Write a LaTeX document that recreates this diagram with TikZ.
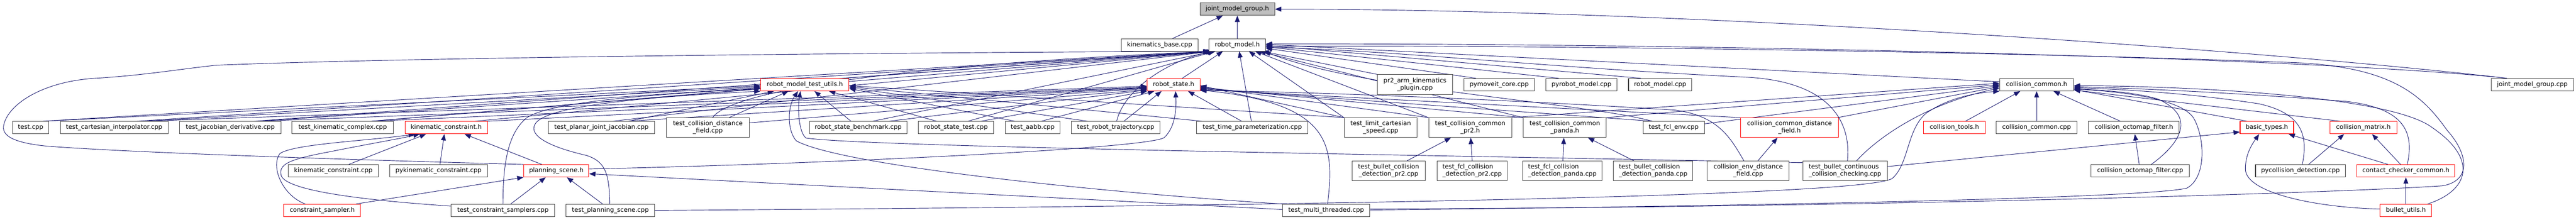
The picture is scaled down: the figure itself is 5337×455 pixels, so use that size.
\documentclass[tikz,border=0pt]{standalone}
\usepackage{fontspec}
\setmainfont{DejaVu Sans}
\usetikzlibrary{arrows.meta,backgrounds}
\definecolor{eblue}{HTML}{191970}
\definecolor{gborder}{HTML}{404040}
\definecolor{gfill}{HTML}{BFBFBF}
\tikzset{
  nb/.style={draw=gborder, line width=1.1pt, fill=white, inner sep=0pt, minimum height=25.7pt, text=black, font=\fontsize{12.9}{15}\selectfont},
  nb2/.style={nb, minimum height=40.7pt, align=center},
  nbl/.style={nb, minimum height=40.7pt, align=left},
  hl/.style={draw=red},
  root/.style={fill=gfill},
  e/.style={draw=eblue, line width=1pt, -{Triangle[length=13pt,width=10pt]}},
}
\begin{document}
\begin{tikzpicture}[x=1pt,y=-1pt]
\useasboundingbox (0,0) rectangle (5337,455);
% row 0-2
\node[nb,root,minimum width=155pt] (jmgh) at (2563.5,19) {joint\_model\_group.h};
\node[nb,minimum width=159pt] (kb) at (2402.5,93) {kinematics\_base.cpp};
\node[nb,minimum width=117pt] (rmh) at (2563.5,93) {robot\_model.h};
\node[nb,hl,minimum width=183pt] (rmtu) at (1667.5,175.5) {robot\_model\_test\_utils.h};
\node[nb,hl,minimum width=109pt] (rsh) at (2431.5,175.5) {robot\_state.h};
\node[nb2,minimum width=155pt] (pr2arm) at (2931.5,175) {pr2\_arm\_kinematics\\\_plugin.cpp};
\node[nb,minimum width=146pt] (pymc) at (3106,175.5) {pymoveit\_core.cpp};
\node[nb,minimum width=147pt] (pyrm) at (3276.5,175.5) {pyrobot\_model.cpp};
\node[nb,minimum width=131pt] (rmcpp) at (3439.5,175.5) {robot\_model.cpp};
\node[nb,minimum width=153pt] (cch) at (4219.5,175.5) {collision\_common.h};
\node[nb,minimum width=171pt] (jmgcpp) at (5246.5,175.5) {joint\_model\_group.cpp};
% row 3
\node[nb,minimum width=75pt] (testcpp) at (63.5,264.5) {test.cpp};
\node[nb,minimum width=223pt] (tci) at (236.5,264.5) {test\_cartesian\_interpolator.cpp};
\node[nb,minimum width=210pt] (tjd) at (477,264.5) {test\_jacobian\_derivative.cpp};
\node[nb,minimum width=210pt] (tkc) at (710,264.5) {test\_kinematic\_complex.cpp};
\node[nb,hl,minimum width=171pt] (kch) at (924.5,264.5) {kinematic\_constraint.h};
\node[nb,minimum width=220pt] (tpjj) at (1246,264.5) {test\_planar\_joint\_jacobian.cpp};
\node[nb2,minimum width=171pt] (tcdf) at (1466.5,264.5) {test\_collision\_distance\\\_field.cpp};
\node[nb,minimum width=202pt] (rsb) at (1778,264.5) {robot\_state\_benchmark.cpp};
\node[nb,minimum width=155pt] (rst) at (1980.5,264.5) {robot\_state\_test.cpp};
\node[nb,minimum width=113pt] (aabb) at (2139.5,264.5) {test\_aabb.cpp};
\node[nb,minimum width=183pt] (trt) at (2311.5,264.5) {test\_robot\_trajectory.cpp};
\node[nb,minimum width=231pt] (ttp) at (2594.5,264.5) {test\_time\_parameterization.cpp};
\node[nb2,minimum width=151pt] (tlcs) at (2860.5,264.5) {test\_limit\_cartesian\\\_speed.cpp};
\node[nb2,minimum width=172pt] (tccpr2) at (3046,264.5) {test\_collision\_common\\\_pr2.h};
\node[nb2,minimum width=172pt] (tccpanda) at (3242,264.5) {test\_collision\_common\\\_panda.h};
\node[nb,minimum width=127pt] (tfclenv) at (3467.5,264.5) {test\_fcl\_env.cpp};
\node[nb2,hl,minimum width=203pt] (ccdf) at (3707.5,264.5) {collision\_common\_distance\\\_field.h};
\node[nb,hl,minimum width=128pt] (ctools) at (4049,264.5) {collision\_tools.h};
\node[nb,minimum width=167pt] (cccpp) at (4219.5,264.5) {collision\_common.cpp};
\node[nb,minimum width=188pt] (cofh) at (4421,264.5) {collision\_octomap\_filter.h};
\node[nb,hl,minimum width=111pt] (bth) at (4696.5,264.5) {basic\_types.h};
\node[nb,hl,minimum width=139pt] (cmh) at (4896.5,264.5) {collision\_matrix.h};
% row 4
\node[nb,minimum width=187pt] (kccpp) at (690.5,354) {kinematic\_constraint.cpp};
\node[nb,minimum width=203pt] (pykc) at (908.5,354) {pykinematic\_constraint.cpp};
\node[nb,hl,minimum width=135pt] (psh) at (1152.5,354) {planning\_scene.h};
\node[nb2,minimum width=152pt] (tbcdpr2) at (2877,354) {test\_bullet\_collision\\\_detection\_pr2.cpp};
\node[nbl,minimum width=146pt] (tfcdpr2) at (3050,354) {test\_fcl\_collision\\\_detection\_pr2.cpp};
\node[nbl,minimum width=164pt] (tfcdpanda) at (3237,354) {test\_fcl\_collision\\\_detection\_panda.cpp};
\node[nbl,minimum width=164pt] (tbcdpanda) at (3425,354) {test\_bullet\_collision\\\_detection\_panda.cpp};
\node[nb2,minimum width=170pt] (cedf) at (3622,354) {collision\_env\_distance\\\_field.cpp};
\node[nbl,minimum width=175pt] (tbccc) at (3822.5,354) {test\_bullet\_continuous\\\_collision\_checking.cpp};
\node[nb,minimum width=204pt] (cofcpp) at (4434,354) {collision\_octomap\_filter.cpp};
\node[nb,minimum width=186pt] (pycd) at (4766,354) {pycollision\_detection.cpp};
\node[nb,hl,minimum width=203pt] (cchk) at (4984.5,354) {contact\_checker\_common.h};
% row 5
\node[nb,hl,minimum width=159pt] (csh) at (667.5,436) {constraint\_sampler.h};
\node[nb,minimum width=214pt] (tcs) at (1042,436) {test\_constraint\_samplers.cpp};
\node[nb,minimum width=183pt] (tps) at (1264.5,436) {test\_planning\_scene.cpp};
\node[nb,minimum width=181pt] (tmt) at (2747.5,436) {test\_multi\_threaded.cpp};
\node[nb,hl,minimum width=107pt] (buh) at (4984.5,436) {bullet\_utils.h};

\begin{scope}[on background layer]
\fill[white] (0,0) rectangle (5337,455);
% joint_model_group.h
\draw[e] ([xshift=27pt]kb.north) -- ([xshift=-30pt]jmgh.south);
\draw[e] (rmh.north) -- (jmgh.south);
\draw[e] ([xshift=-53pt]jmgcpp.north) .. controls +(-500,-58) and +(860,0) .. (jmgh.east);
% robot_model.h
\draw[e] ([xshift=18pt]rsh.north) -- ([xshift=-30pt]rmh.south);
\draw[e] ([xshift=80pt]rmtu.north) -- ([xshift=-58pt]rmh.south);
\draw[e] (pr2arm.north west) -- ([xshift=52pt]rmh.south);
\draw[e] ([xshift=-48pt]pymc.north) -- ([yshift=-7pt]rmh.east);
\draw[e] ([xshift=-47pt]pyrm.north) -- ([yshift=-4pt]rmh.east);
\draw[e] ([xshift=-40pt]rmcpp.north) -- ([yshift=-1pt]rmh.east);
\draw[e] ([xshift=-53pt]jmgcpp.north) .. controls +(-393,-43) and +(880,-2) .. ([yshift=2pt]rmh.east);
\draw[e] ([yshift=6pt]cch.west) -- ([yshift=1pt]rmh.east);
\draw[e] ([xshift=26pt]testcpp.north) -- ([xshift=-56pt]rmh.south);
\draw[e] ([xshift=47pt]tci.north) -- ([xshift=-55pt]rmh.south);
\draw[e] ([xshift=50pt]tjd.north) -- ([xshift=-54pt]rmh.south);
\draw[e] ([xshift=60pt]tkc.north) -- ([xshift=-53pt]rmh.south);
\draw[e] ([xshift=60pt]kch.north) -- ([xshift=-52pt]rmh.south);
\draw[e] ([xshift=24pt]tpjj.north) -- ([xshift=-51pt]rmh.south);
\draw[e] ([xshift=10pt]tcdf.north) .. controls +(40,-60) and +(-600,25) .. ([xshift=-50pt]rmh.south);
\draw[e] ([xshift=30pt]rsb.north) -- ([xshift=-49pt]rmh.south);
\draw[e] ([xshift=25pt]rst.north) -- ([xshift=-47pt]rmh.south);
\draw[e] ([xshift=2pt]trt.north) .. controls +(17,-72) and +(-85,14) .. ([xshift=-45pt]rmh.south);
\draw[e] ([xshift=-2pt]ttp.north) -- ([xshift=4pt]rmh.south);
\draw[e] (tlcs.north west) -- ([xshift=24pt]rmh.south);
\draw[e] (tccpr2.north west) -- ([xshift=37pt]rmh.south);
\draw[e] (tccpanda.north west) -- ([xshift=46pt]rmh.south);
\draw[e] ([xshift=-44pt]tfclenv.north) .. controls +(-150,-40) and +(200,80) .. ([xshift=56pt]rmh.south);
\draw[e] (psh.north west) .. controls (800,333) and (300,318) .. (100,303) .. controls (25,296) and (2,280) .. (8,258) .. controls (18,215) and (90,168) .. (200,162) .. controls (300,156) and (380,142) .. (450,135) .. controls (900,117) and (2000,108) .. ([xshift=-57pt]rmh.south);
\draw[e] ([yshift=3pt]tmt.east) .. controls (3800,430) and (4800,402) .. (5060,385) .. controls (5120,375) and (5115,320) .. (5070,270) .. controls (5020,200) and (4960,140) .. (4760,130) .. controls (4200,108) and (3200,93) .. ([yshift=-3pt]rmh.east);
\draw[e] ([xshift=5pt]tbccc.north) .. controls (3835,260) and (3800,170) .. (3620,160) .. controls (3200,140) and (2900,105) .. ([yshift=-5pt]rmh.east);
% robot_state.h
\draw[e] ([xshift=63pt]tci.north) -- ([yshift=-3pt]rsh.west);
\draw[e] ([xshift=60pt]tjd.north) -- ([yshift=-5pt]rsh.west);
\draw[e] ([xshift=60pt]tkc.north) -- ([yshift=-6pt]rsh.west);
\draw[e] (kch.north east) -- ([yshift=-7pt]rsh.west);
\draw[e] ([xshift=56pt]tpjj.north) -- ([yshift=-8pt]rsh.west);
\draw[e] ([yshift=10pt]tcdf.east) -- ([yshift=-10pt]rsh.west);
\draw[e] ([xshift=64pt]rsb.north) -- ([yshift=-11pt]rsh.west);
\draw[e] ([xshift=52pt]rst.north) -- (rsh.south west);
\draw[e] ([xshift=18pt]aabb.north) -- ([xshift=-40pt]rsh.south);
\draw[e] ([xshift=17pt]trt.north) -- ([xshift=-25pt]rsh.south);
\draw[e] ([xshift=-22pt]ttp.north) -- ([xshift=30pt]rsh.south);
\draw[e] (tlcs.north west) -- ([yshift=-2pt]rsh.east);
\draw[e] (tccpr2.north west) -- ([yshift=-4pt]rsh.east);
\draw[e] (tccpanda.north west) -- ([yshift=-6pt]rsh.east);
\draw[e] ([xshift=-44pt]tfclenv.north) -- ([yshift=-8pt]rsh.east);
\draw[e] (ccdf.north west) -- ([yshift=-10pt]rsh.east);
\draw[e] ([xshift=-9pt]cedf.north) .. controls (3585,285) and (3560,240) .. (3470,228) .. controls (3100,205) and (2700,190) .. ([yshift=-12pt]rsh.east);
\draw[e] ([xshift=3pt]tmt.north) .. controls (2765,300) and (2760,215) .. ([yshift=-11pt]rsh.east);
\draw[e] ([yshift=4pt]psh.east) .. controls (1700,340) and (2380,308) .. (2412,285) .. controls (2437,262) and (2437,220) .. ([xshift=4pt]rsh.south);
% robot_model_test_utils.h
\draw[e] ([xshift=26pt]testcpp.north) -- ([yshift=-2pt]rmtu.west);
\draw[e] ([xshift=63pt]tci.north) -- ([yshift=-4pt]rmtu.west);
\draw[e] ([xshift=60pt]tjd.north) -- ([yshift=-6pt]rmtu.west);
\draw[e] ([xshift=60pt]tkc.north) -- ([yshift=-8pt]rmtu.west);
\draw[e] ([xshift=56pt]tpjj.north) -- ([xshift=-64pt]rmtu.south);
\draw[e] ([xshift=44pt]tcdf.north) -- ([xshift=-34pt]rmtu.south);
\draw[e] ([xshift=-15pt]rsb.north) -- ([xshift=20pt]rmtu.south);
\draw[e] ([xshift=-40pt]rst.north) -- ([xshift=50pt]rmtu.south);
\draw[e] ([xshift=-37pt]aabb.north) -- ([yshift=-8pt]rmtu.east);
\draw[e] ([xshift=-58pt]trt.north) -- ([yshift=-6pt]rmtu.east);
\draw[e] ([xshift=-104pt]ttp.north) -- ([yshift=-4pt]rmtu.east);
\draw[e] (tlcs.north west) -- ([yshift=-2pt]rmtu.east);
\draw[e] (tcs.north) .. controls (1042,330) and (1055,275) .. (1090,245) .. controls (1130,215) and (1300,198) .. ([yshift=-8pt]rmtu.west);
\draw[e] ([xshift=-1pt]tps.north) .. controls (1262,360) and (1255,335) .. (1215,322) .. controls (1120,300) and (1095,275) .. (1110,255) .. controls (1130,228) and (1250,205) .. (rmtu.south west);
\draw[e] (tmt.north west) .. controls (2300,400) and (1750,345) .. (1650,292) .. controls (1630,270) and (1632,220) .. ([xshift=-14pt]rmtu.south);
\draw[e] ([yshift=17pt]tbccc.west) .. controls (3000,322) and (1800,305) .. (1670,286) .. controls (1655,275) and (1652,225) .. ([xshift=-9pt]rmtu.south);
% kinematic_constraint.h / planning_scene.h
\draw[e] ([xshift=32pt]kccpp.north) -- ([xshift=-42pt]kch.south);
\draw[e] ([xshift=3pt]pykc.north) -- ([xshift=-4pt]kch.south);
\draw[e] ([xshift=-30pt]psh.north) -- ([xshift=38pt]kch.south);
\draw[e] ([xshift=-35pt]csh.north) .. controls (585,405) and (560,345) .. (580,318) .. controls (610,298) and (760,292) .. ([xshift=-65pt]kch.south);
\draw[e] ([yshift=9pt]tcs.west) .. controls (800,418) and (600,400) .. (583,365) .. controls (575,340) and (600,330) .. (680,315) .. controls (770,297) and (830,287) .. ([xshift=-55pt]kch.south);
\draw[e] ([xshift=70pt]csh.north) -- (psh.south west);
\draw[e] ([xshift=16pt]tcs.north) -- ([xshift=-22pt]psh.south);
\draw[e] ([xshift=-16pt]tps.north) -- ([xshift=22pt]psh.south);
\draw[e] ([yshift=2pt]tmt.west) -- ([yshift=-6pt]psh.east);
% collision tests
\draw[e] ([xshift=38pt]tbcdpr2.north) -- ([xshift=-40pt]tccpr2.south);
\draw[e] (tfcdpr2.north) -- ([xshift=1pt]tccpr2.south);
\draw[e] ([xshift=1pt]tfcdpanda.north) -- ([xshift=-2pt]tccpanda.south);
\draw[e] ([xshift=-40pt]tbcdpanda.north) -- ([xshift=48pt]tccpanda.south);
\draw[e] ([xshift=20pt]cedf.north) -- ([xshift=-25pt]ccdf.south);
% collision_common.h
\draw[e] ([xshift=23pt]ctools.north) -- ([xshift=-34pt]cch.south);
\draw[e] (cccpp.north) -- (cch.south);
\draw[e] ([xshift=-28pt]cofh.north) -- ([xshift=35pt]cch.south);
\draw[e] (tccpr2.north east) -- ([yshift=3pt]cch.west);
\draw[e] (tccpanda.north east) -- (cch.west);
\draw[e] ([yshift=8pt]tfclenv.east) -- ([yshift=-2pt]cch.west);
\draw[e] ([xshift=100pt]ccdf.north) -- ([yshift=-4pt]cch.west);
\draw[e] ([xshift=24pt]tbccc.north) .. controls (3890,285) and (3990,215) .. ([yshift=-7pt]cch.west);
\draw[e] (tps.east) .. controls (2500,428) and (3850,410) .. (3920,370) .. controls (3955,340) and (3950,270) .. (3990,235) .. controls (4040,200) and (4100,192) .. (cch.south west);
\draw[e] ([xshift=-41pt]bth.north) -- ([yshift=-10pt]cch.east);
\draw[e] ([xshift=-48pt]cmh.north) -- ([yshift=-11pt]cch.east);
\draw[e] ([xshift=23pt]cofcpp.north) .. controls (4520,295) and (4550,240) .. (4470,205) .. controls (4420,190) and (4350,187) .. ([yshift=-8pt]cch.east);
\draw[e] ([xshift=4pt]pycd.north) .. controls (4782,280) and (4770,235) .. (4680,215) .. controls (4550,195) and (4420,186) .. ([yshift=-6pt]cch.east);
\draw[e] ([xshift=3pt]cchk.north) .. controls (5000,280) and (4990,225) .. (4860,210) .. controls (4600,190) and (4420,183) .. ([yshift=-4pt]cch.east);
\draw[e] ([xshift=45pt]buh.north) .. controls (5115,395) and (5135,330) .. (5040,265) .. controls (4950,195) and (4500,178) .. ([yshift=-2pt]cch.east);
\draw[e] ([yshift=1pt]tmt.east) .. controls (3800,425) and (4450,408) .. (4530,390) .. controls (4570,370) and (4570,290) .. (4545,245) .. controls (4520,205) and (4400,190) .. ([yshift=-9pt]cch.east);
% right cluster
\draw[e] ([xshift=-2pt]cofcpp.north) -- ([xshift=2pt]cofh.south);
\draw[e] ([yshift=9pt]tbccc.east) -- ([yshift=-9pt]bth.west);
\draw[e] ([xshift=17pt]pycd.north) -- ([xshift=-40pt]cmh.south);
\draw[e] ([xshift=-11pt]cchk.north) -- ([xshift=18pt]cmh.south);
\draw[e] ([xshift=-37pt]cchk.north) -- ([xshift=45pt]bth.south);
\draw[e] (buh.north) -- (cchk.south);
\draw[e] ([yshift=3pt]buh.west) .. controls (4800,430) and (4652,400) .. (4652,350) .. controls (4652,320) and (4665,300) .. ([xshift=-16pt]bth.south);
\end{scope}
\end{tikzpicture}
\end{document}
